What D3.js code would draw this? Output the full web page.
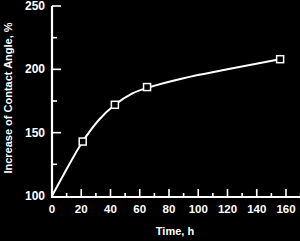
<!DOCTYPE html>
<html><head><meta charset="utf-8">
<script src="https://cdn.jsdelivr.net/npm/d3@7"></script>
<style>
html,body{margin:0;padding:0;background:#000;}
svg{display:block;}
text{font-family:"Liberation Sans",Arial,sans-serif;font-weight:bold;fill:#fff;}
</style></head>
<body>
<script>
const timeH = [21, 43, 65, 156];
const increasePct = [143, 172, 186, 208];
const curveTime = [0, 8, 21, 32, 43, 55, 67, 90, 120, 156];
const curveValue = [100, 117, 143, 160, 172, 181, 186, 193, 200, 208];
const xTicks = [0, 20, 40, 60, 80, 100, 120, 140, 160];
const xMinor = [10, 30, 50, 70, 90, 110, 130, 150, 170];
const yTicks = [100, 150, 200, 250];
const yMinor = [125, 175, 225];

const W = 300, H = 241;
const svg = d3.select("body").append("svg").attr("width", W).attr("height", H)
  .style("background", "#000");

const x = d3.scaleLinear().domain([0, 170]).range([52, 300.6]);
const y = d3.scaleLinear().domain([100, 250]).range([196, 6]);
const x0 = 52, y0 = 197;

// axes lines
svg.append("line").attr("x1", x0).attr("x2", x0).attr("y1", y(250)).attr("y2", y0 + 1)
  .attr("stroke", "#fff").attr("stroke-width", 2.2);
svg.append("line").attr("x1", x0 - 1).attr("x2", W).attr("y1", y0).attr("y2", y0)
  .attr("stroke", "#fff").attr("stroke-width", 2.2);

// x ticks
svg.selectAll(".xt").data(xTicks.slice(1)).join("line")
  .attr("x1", d => x(d)).attr("x2", d => x(d)).attr("y1", y0).attr("y2", y0 - 8)
  .attr("stroke", "#fff").attr("stroke-width", 1.6);
svg.selectAll(".xm").data(xMinor).join("line")
  .attr("x1", d => x(d)).attr("x2", d => x(d)).attr("y1", y0).attr("y2", y0 - 4)
  .attr("stroke", "#fff").attr("stroke-width", 1.6);
svg.selectAll(".xl").data(xTicks).join("text")
  .attr("x", d => x(d)).attr("y", 213).attr("text-anchor", "middle")
  .attr("font-size", 11.5).text(d => d);

// y ticks
svg.selectAll(".yt").data(yTicks.slice(1)).join("line")
  .attr("x1", x0).attr("x2", x0 + 9).attr("y1", d => y(d)).attr("y2", d => y(d))
  .attr("stroke", "#fff").attr("stroke-width", 1.6);
svg.selectAll(".ym").data(yMinor).join("line")
  .attr("x1", x0).attr("x2", x0 + 5).attr("y1", d => y(d)).attr("y2", d => y(d))
  .attr("stroke", "#fff").attr("stroke-width", 1.6);
svg.selectAll(".yl").data(yTicks).join("text")
  .attr("x", 45).attr("y", d => y(d) + 4).attr("text-anchor", "end")
  .attr("font-size", 12).text(d => d);

// titles
svg.append("text").attr("transform", "translate(12,98) rotate(-90)")
  .attr("text-anchor", "middle").attr("font-size", 11).text("Increase of Contact Angle, %");
svg.append("text").attr("x", 175).attr("y", 235).attr("text-anchor", "middle")
  .attr("font-size", 11).text("Time, h");

// curve
const line = d3.line().x(d => x(d[0])).y(d => y(d[1])).curve(d3.curveMonotoneX);
svg.append("path").datum(d3.zip(curveTime, curveValue)).attr("d", line)
  .attr("fill", "none").attr("stroke", "#fff").attr("stroke-width", 2);

// markers
svg.selectAll(".pt").data(d3.zip(timeH, increasePct)).join("rect")
  .attr("x", d => x(d[0]) - 3.5).attr("y", d => y(d[1]) - 3.5)
  .attr("width", 7).attr("height", 7)
  .attr("fill", "#000").attr("stroke", "#fff").attr("stroke-width", 1.5);
</script>
</body></html>
